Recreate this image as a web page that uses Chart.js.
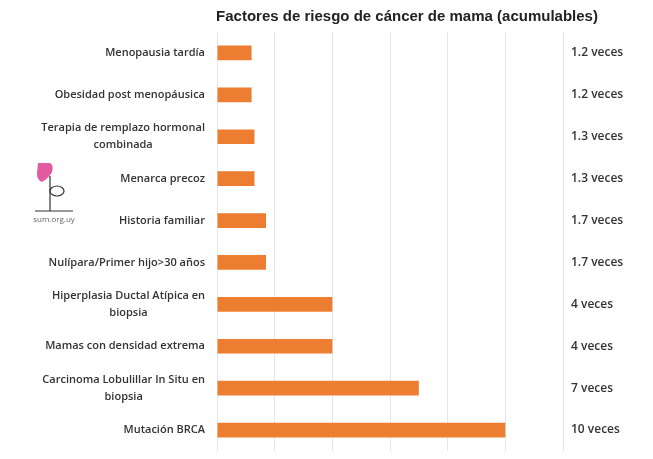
<!DOCTYPE html>
<html>
<head>
<meta charset="utf-8">
<script src="https://cdn.jsdelivr.net/npm/chart.js@4/dist/chart.umd.min.js"></script>
<style>
  html, body { margin: 0; padding: 0; background: #fff; }
  #wrap { width: 653px; height: 459px; position: relative; }
</style>
</head>
<body>
<div id="wrap"><canvas id="chart"></canvas></div>
<script>
const TITLE = 'Factores de riesgo de cáncer de mama (acumulables)';

const categories = [
  ['Menopausia tardía'],
  ['Obesidad post menopáusica'],
  ['Terapia de remplazo hormonal', 'combinada'],
  ['Menarca precoz'],
  ['Historia familiar'],
  ['Nulípara/Primer hijo>30 años'],
  ['Hiperplasia Ductal Atípica en', 'biopsia'],
  ['Mamas con densidad extrema'],
  ['Carcinoma Lobulillar In Situ en', 'biopsia'],
  ['Mutación BRCA'],
];

const riskValues = [1.2, 1.2, 1.3, 1.3, 1.7, 1.7, 4, 4, 7, 10];
const valueLabels = riskValues.map((v) => `${v} veces`);

const xTicks = [0, 2, 4, 6, 8, 10, 12];

const BAR_COLOR = '#ed7d31';
const TEXT_COLOR = '#333333';
const LABEL_FONT = '600 11px "Open Sans", sans-serif';

// title, category labels, value labels and the little logo
const decorations = {
  id: 'decorations',
  afterDraw(chart) {
    const { ctx } = chart;
    const yScale = chart.scales.y;
    ctx.save();

    ctx.fillStyle = '#222';
    ctx.font = 'bold 15px "Liberation Sans", Arial, sans-serif';
    ctx.textAlign = 'center';
    ctx.textBaseline = 'middle';
    ctx.fillText(TITLE, 407, 17);

    // category labels: block right aligned, lines centred on each other
    ctx.font = LABEL_FONT;
    ctx.fillStyle = TEXT_COLOR;
    const lineH = 17;
    chart.data.labels.forEach((lines, i) => {
      const y = yScale.getPixelForTick(i);
      const widest = Math.max(...lines.map((l) => ctx.measureText(l).width));
      const cx = 205 - widest / 2;
      lines.forEach((line, j) => {
        ctx.fillText(line, cx, y + (j - (lines.length - 1) / 2) * lineH);
      });
    });

    // value labels to the right
    ctx.font = '600 12px "Open Sans", sans-serif';
    ctx.textAlign = 'left';
    const meta = chart.getDatasetMeta(0);
    meta.data.forEach((bar, i) => {
      ctx.fillText(valueLabels[i], 571, bar.y);
    });

    // logo
    ctx.fillStyle = '#e45aa0';
    ctx.beginPath();
    ctx.moveTo(38, 163);
    ctx.lineTo(50, 163);
    ctx.quadraticCurveTo(54, 165, 52, 172);
    ctx.quadraticCurveTo(49, 178, 42, 182);
    ctx.quadraticCurveTo(37, 180, 37, 174);
    ctx.closePath();
    ctx.fill();
    ctx.strokeStyle = '#333';
    ctx.lineWidth = 1.2;
    ctx.beginPath();
    ctx.moveTo(50, 176);
    ctx.lineTo(50, 211);
    ctx.moveTo(35, 211);
    ctx.lineTo(73, 211);
    ctx.stroke();
    ctx.beginPath();
    ctx.ellipse(57, 191, 7, 5, 0, 0, Math.PI * 2);
    ctx.stroke();
    ctx.fillStyle = '#666';
    ctx.font = '8px "Open Sans", sans-serif';
    ctx.textAlign = 'center';
    ctx.fillText('sum.org.uy', 54, 220);

    ctx.restore();
  },
};

new Chart(document.getElementById('chart'), {
  type: 'bar',
  data: {
    labels: categories,
    datasets: [{
      data: riskValues,
      backgroundColor: BAR_COLOR,
      borderWidth: 0,
      barPercentage: 0.35,
      categoryPercentage: 1,
    }],
  },
  options: {
    indexAxis: 'y',
    responsive: true,
    maintainAspectRatio: false,
    animation: false,
    layout: {
      padding: { top: 32, right: 90, bottom: 8, left: 0 },
    },
    scales: {
      x: {
        min: xTicks[0],
        max: xTicks[xTicks.length - 1],
        afterBuildTicks(scale) {
          scale.ticks = xTicks.map((value) => ({ value }));
        },
        ticks: { display: false },
        grid: { color: '#e6e6e6', drawTicks: false },
        border: { display: false },
      },
      y: {
        ticks: { display: false },
        grid: { display: false, drawTicks: false },
        border: { display: false },
        afterFit(scale) {
          scale.width = 217;
        },
      },
    },
    plugins: {
      legend: { display: false },
      tooltip: { enabled: false },
      title: { display: false },
    },
  },
  plugins: [decorations],
});
</script>
</body>
</html>
